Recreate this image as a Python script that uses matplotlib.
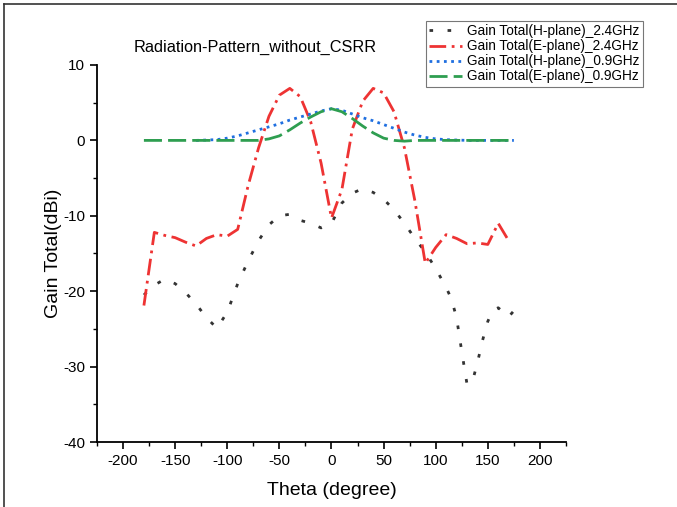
import numpy as np
import matplotlib.pyplot as plt
from matplotlib.lines import Line2D
from matplotlib.ticker import MultipleLocator

plt.rcParams['font.family'] = ['Liberation Sans', 'DejaVu Sans']
plt.rcParams['axes.unicode_minus'] = False

# Gain Total(H-plane)_2.4GHz
theta_h24 = [-180, -170, -160, -150, -140, -130, -120, -110, -100, -90, -80, -70, -60,
             -50, -40, -30, -20, -10, 0, 10, 20, 30, 40, 50, 60, 70, 80, 90, 100,
             110, 115, 120, 125, 130, 135, 140, 145, 150, 155, 160, 170, 180]
gain_h24 = [-20.5, -19.2, -18.4, -19.0, -20.2, -21.7, -23.5, -24.9, -22.8, -19.0, -16.0, -13.3, -11.2,
            -10.0, -9.8, -10.6, -11.0, -11.6, -11.0, -8.3, -7.0, -6.4, -6.9, -7.8, -9.2, -11.0, -13.0, -14.8, -17.0,
            -19.5, -21.0, -23.5, -28.0, -32.3, -32.1, -29.5, -26.5, -24.0, -22.5, -22.2, -23.4, -21.8]

# Gain Total(E-plane)_2.4GHz
theta_e24 = [-180, -170, -160, -150, -140, -130, -120, -110, -100, -90, -80, -70, -60,
             -50, -40, -30, -20, -10, 0, 10, 20, 30, 40, 50, 60, 70, 80, 90, 100,
             110, 120, 130, 140, 150, 160, 170]
gain_e24 = [-21.9, -12.2, -12.6, -12.9, -13.5, -14.0, -13.0, -12.5, -12.7, -11.8, -6.0, -1.0, 3.2,
            6.0, 6.9, 5.8, 2.5, -3.0, -10.3, -6.5, 1.5, 5.2, 6.9, 6.3, 3.8, -1.0, -8.0, -16.3, -14.2,
            -12.5, -13.0, -13.7, -13.6, -13.8, -11.0, -13.3]

# Gain Total(H-plane)_0.9GHz
theta_h09 = [-130, -120, -110, -100, -90, -80, -70, -60, -50, -40, -30, -20, -10, 0,
             10, 20, 30, 40, 50, 60, 70, 80, 90, 100, 110, 120, 130, 140, 150, 160, 175]
gain_h09 = [0.0, 0.05, 0.1, 0.3, 0.6, 1.0, 1.4, 1.8, 2.2, 2.7, 3.1, 3.5, 3.9, 4.2,
            4.0, 3.5, 3.0, 2.6, 2.1, 1.6, 1.1, 0.7, 0.4, 0.2, 0.1, 0.05, 0.0, 0.0, 0.0, 0.0, 0.0]

# Gain Total(E-plane)_0.9GHz
theta_e09 = [-180, -160, -140, -120, -100, -80, -70, -60, -50, -40, -30, -20, -10, 0,
             10, 20, 30, 40, 50, 60, 70, 80, 100, 120, 140, 160, 175]
gain_e09 = [0.0, 0.0, 0.0, 0.0, 0.0, 0.0, 0.0, 0.2, 0.6, 1.4, 2.3, 3.1, 3.8, 4.2,
            3.8, 2.9, 1.9, 1.0, 0.3, 0.0, -0.1, 0.0, 0.0, 0.0, 0.0, 0.0, 0.0]

fig = plt.figure(figsize=(6.77, 5.07), dpi=100)
ax = fig.add_axes([0.1433, 0.1282, 0.6927, 0.7436])

ax.plot(theta_h24, gain_h24, color='#333333', lw=2, dashes=(1.3, 5.2),
        label='Gain Total(H-plane)_2.4GHz')
ax.plot(theta_e24, gain_e24, color='#EE3333', lw=2, dashes=(6, 2, 1, 2),
        label='Gain Total(E-plane)_2.4GHz')
ax.plot(theta_h09, gain_h09, color='#1F6FE0', lw=2, dashes=(1, 1.6),
        label='Gain Total(H-plane)_0.9GHz')
ax.plot(theta_e09, gain_e09, color='#2E9E50', lw=2, dashes=(6.5, 2.2),
        label='Gain Total(E-plane)_0.9GHz')

ax.set_xlim(-225, 225)
ax.set_ylim(-40, 10)
ax.xaxis.set_major_locator(MultipleLocator(50))
ax.xaxis.set_minor_locator(MultipleLocator(25))
ax.yaxis.set_major_locator(MultipleLocator(10))
ax.yaxis.set_minor_locator(MultipleLocator(5))
ax.tick_params(which='major', direction='out', length=5, width=1.2, labelsize=11)
ax.tick_params(which='minor', direction='out', length=3, width=1.0)
ax.spines['top'].set_visible(False)
ax.spines['right'].set_visible(False)
ax.spines['left'].set_linewidth(1.3)
ax.spines['bottom'].set_linewidth(1.3)

ax.set_xlabel('Theta (degree)', fontsize=14, labelpad=10)
ax.set_ylabel('Gain Total(dBi)', fontsize=14, labelpad=1)
fig.text(255 / 677, 1 - 47 / 507, 'Radiation-Pattern_without_CSRR', fontsize=11.7,
         ha='center', va='center')

leg = fig.legend(loc='upper right', bbox_to_anchor=(650 / 677, 1 - 14 / 507),
                 fontsize=9.8, frameon=True, fancybox=False, handlelength=2.4,
                 handletextpad=0.4, borderpad=0.25, labelspacing=0.08)
leg.get_frame().set_edgecolor('#555555')
leg.get_frame().set_linewidth(0.8)

# frame lines at the top and left edge of the picture
fig.add_artist(Line2D([4 / 677, 1], [1 - 4 / 507, 1 - 4 / 507], color='#333333', lw=1.2))
fig.add_artist(Line2D([4 / 677, 4 / 677], [0, 1 - 4 / 507], color='#333333', lw=1.2))

fig.savefig('out.png', dpi=100)
